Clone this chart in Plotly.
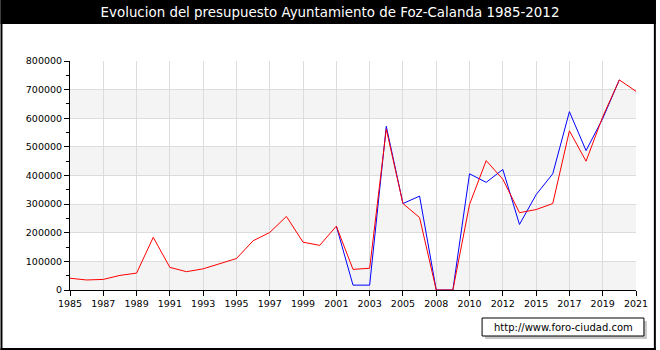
import plotly.graph_objects as go

years = [str(y) for y in range(1985, 2006)] + ["2006", "2008", "2009", "2010", "2011", "2012", "2013",
                                               "2015", "2016", "2017", "2018", "2019", "2020", "2021"]
tick_labels = ["1985", "1987", "1989", "1991", "1993", "1995", "1997", "1999", "2001", "2003", "2005",
               "2008", "2010", "2012", "2015", "2017", "2019", "2021"]

red_values = [41000, 35000, 37000, 51000, 59000, 184000, 79000, 64000, 74000, 93000, 110000,
              172000, 201000, 257000, 167000, 156000, 223000, 72000, 76000, 562000, 302000,
              253000, 0, 0, 299000, 452000, 387000, 270000, 281000, 302000, 556000, 450000,
              605000, 734000, 694000]
blue_values = [None] * 16 + [223000, 17000, 17000, 572000, 302000,
                             328000, 0, 0, 406000, 376000, 421000, 229000, 333000, 406000, 623000, 487000,
                             599000, 734000, None]

y_ticks = list(range(0, 800001, 100000))

FONT = "DejaVu Sans"
X0, X1, YT, YB = 70, 640, 61, 290
W, H = 660, 350


def px_x(p):
    return (p - X0) / (X1 - X0)


def px_y(p):
    return (YB - p) / (YB - YT)


fig = go.Figure()
fig.add_trace(go.Scatter(x=years, y=blue_values, mode="lines",
                         line=dict(color="#0000ff", width=1), connectgaps=False, hoverinfo="skip"))
fig.add_trace(go.Scatter(x=years, y=red_values, mode="lines",
                         line=dict(color="#ff0000", width=1), hoverinfo="skip"))

shapes = []
# alternating bands
for lo in range(0, 800000, 200000):
    shapes.append(dict(type="rect", xref="x", yref="y", x0=0, x1=len(years) - 1, y0=lo, y1=lo + 100000,
                       fillcolor="#f4f4f4", line=dict(width=0), layer="below"))
# black frame and title bar
shapes += [
    dict(type="rect", xref="paper", yref="paper", x0=px_x(0), x1=px_x(W), y0=px_y(0), y1=px_y(24),
         fillcolor="black", line=dict(width=0), layer="below"),
    dict(type="rect", xref="paper", yref="paper", x0=px_x(0), x1=px_x(2), y0=px_y(0), y1=px_y(H),
         fillcolor="black", line=dict(width=0), layer="below"),
    dict(type="rect", xref="paper", yref="paper", x0=px_x(658), x1=px_x(W), y0=px_y(0), y1=px_y(H),
         fillcolor="black", line=dict(width=0), layer="below"),
    dict(type="rect", xref="paper", yref="paper", x0=px_x(0), x1=px_x(W), y0=px_y(348), y1=px_y(H),
         fillcolor="black", line=dict(width=0), layer="below"),
    # watermark shadow
    dict(type="rect", xref="paper", yref="paper", x0=px_x(488), x1=px_x(651), y0=px_y(321), y1=px_y(339),
         fillcolor="#c8c8c8", line=dict(width=0), layer="below"),
    dict(type="rect", xref="paper", yref="paper", x0=px_x(485), x1=px_x(648), y0=px_y(318), y1=px_y(336),
         fillcolor="white", line=dict(color="black", width=1), layer="below"),
]

fig.update_layout(
    width=W, height=H,
    margin=dict(l=X0, r=W - X1, t=YT, b=H - YB, pad=0),
    paper_bgcolor="white", plot_bgcolor="white",
    showlegend=False,
    shapes=shapes,
    font=dict(family=FONT, size=9, color="black"),
    title=dict(text="Evolucion del presupuesto Ayuntamiento de Foz-Calanda 1985-2012",
               x=0.5, xref="container", xanchor="center",
               y=1 - 12 / H, yref="container", yanchor="middle",
               font=dict(family=FONT, size=13.4, color="white")),
    annotations=[dict(text="http://www.foro-ciudad.com", xref="paper", yref="paper",
                      x=px_x(566.5), y=px_y(327), xanchor="center", yanchor="middle",
                      showarrow=False, font=dict(family=FONT, size=10, color="black"))],
)

fig.update_xaxes(type="category", categoryorder="array", categoryarray=years,
                 range=[0, len(years) - 1],
                 tickmode="array", tickvals=tick_labels, ticktext=tick_labels,
                 ticks="outside", ticklen=5, tickcolor="black", tickangle=0,
                 showgrid=True, gridcolor="#dcdcdc", gridwidth=1,
                 showline=True, linecolor="black", linewidth=1, zeroline=False,
                 tickfont=dict(family=FONT, size=9.5, color="black"))
fig.update_yaxes(range=[0, 800000], tickmode="array", tickvals=y_ticks,
                 ticktext=[str(v) for v in y_ticks],
                 ticks="outside", ticklen=5, tickcolor="black",
                 minor=dict(dtick=50000, ticks="outside", ticklen=3, tickcolor="black", showgrid=False),
                 showgrid=True, gridcolor="#dcdcdc", gridwidth=1,
                 showline=True, linecolor="black", linewidth=1, zeroline=False,
                 tickfont=dict(family=FONT, size=9.5, color="black"))

fig.write_html("out.html")
